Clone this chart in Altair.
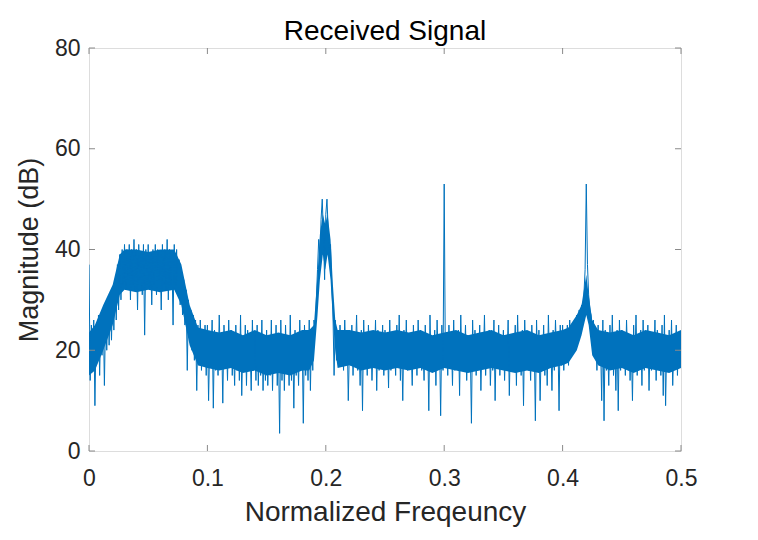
import altair as alt
import pandas as pd
import numpy as np

# Magnitude (dB), one value per 0.001 of normalized frequency
seg_000 = [37, 14, 25, 17, 26, 9, 24, 18, 27, 15, 26, 19, 28, 13, 27, 20, 29, 21, 30, 22,
           32, 24, 34, 26, 37, 28, 39, 30, 40, 33, 41, 32, 40, 34, 41, 30, 40, 33, 42, 32,
           40, 28, 41, 34, 39, 31, 41, 23, 40, 33]
seg_050 = [41, 32, 39, 29, 40, 33, 41, 31, 40, 34, 39, 28, 41, 33, 40, 32, 42, 30, 40, 33,
           39, 25, 41, 32, 40, 31, 38, 29, 36, 27, 34, 25, 32, 16, 30, 22, 28, 20, 27, 18,
           26, 12, 25, 17, 26, 16, 24, 18, 25, 15]
seg_100 = [25, 10, 22, 17, 26, 8.5, 24, 16, 21, 15, 27, 17, 23, 9.5, 25, 18, 22, 14, 26, 17,
           24, 15, 21, 13, 25, 16, 23, 14, 27, 11, 22, 16, 25, 13, 24, 18, 21, 12, 26, 16,
           23, 14, 25, 13, 22, 15, 26, 12, 23, 14]
seg_150 = [24, 13, 22, 15, 26, 12, 23, 17, 25, 13, 21, 3.5, 26, 14, 23, 12, 25, 17, 22, 13,
           27, 14, 23, 8.5, 24, 15, 21, 13, 26, 16, 23, 5.5, 25, 15, 22, 14, 26, 12, 24, 16,
           26, 24, 30, 36, 42, 38, 46, 50, 43, 34]
seg_200 = [47, 50, 44, 38, 41, 33, 28, 15, 26, 18, 23, 17, 25, 19, 22, 16, 26, 18, 24, 10,
           21, 17, 25, 15, 23, 19, 27, 16, 22, 13, 24, 8, 26, 17, 22, 15, 25, 18, 23, 14,
           21, 17, 26, 12, 24, 16, 22, 18, 25, 15]
seg_250 = [24, 17, 22, 12.5, 26, 16, 23, 18, 21, 15, 25, 17, 27, 14, 22, 10, 24, 17, 26, 16,
           23, 18, 21, 13, 25, 17, 22, 15, 26, 18, 24, 16, 21, 14, 25, 17, 23, 8, 27, 16,
           22, 18, 24, 13, 26, 17, 23, 7, 25, 16]
seg_300 = [53, 17, 22, 15, 25, 18, 23, 13, 26, 16, 21, 17, 24, 11, 27, 16, 22, 18, 25, 14,
           23, 17, 21, 5.5, 26, 16, 24, 15, 22, 18, 25, 12, 23, 17, 27, 15, 22, 18, 24, 13,
           21, 16, 26, 10, 23, 17, 25, 15, 22, 18]
seg_350 = [24, 14, 22, 17, 26, 11, 23, 16, 21, 18, 25, 13, 27, 17, 22, 15, 24, 9, 26, 17,
           23, 16, 21, 14, 25, 18, 22, 6, 26, 16, 24, 10, 21, 17, 25, 15, 23, 13, 27, 17,
           22, 12, 24, 16, 26, 18, 23, 8, 25, 17]
seg_400 = [25, 16, 24, 18, 25, 17, 26, 19, 25, 20, 26, 21, 27, 22, 28, 24, 29, 27, 31, 36,
           53, 37, 31, 28, 27, 24, 26, 19, 23, 16, 25, 17, 22, 10, 26, 6, 24, 16, 21, 13,
           25, 17, 27, 15, 22, 12, 24, 8, 26, 16]
seg_450 = [24, 17, 22, 15, 26, 18, 23, 14, 21, 10, 25, 17, 27, 15, 22, 18, 24, 13, 26, 16,
           21, 17, 25, 12, 23, 16, 22, 18, 26, 14, 24, 17, 21, 15, 25, 11, 27, 9, 22, 17,
           24, 16, 26, 13, 21, 18, 25, 15, 23, 17, 22]

# Dense (solid-looking) core of the noise band
core_freq = [0.000, 0.005, 0.012, 0.020, 0.026, 0.030, 0.040, 0.050, 0.060, 0.072, 0.078,
             0.085, 0.092, 0.100, 0.110, 0.120, 0.130, 0.140, 0.150, 0.160, 0.170, 0.180,
             0.186, 0.190, 0.193, 0.195, 0.1975, 0.1995, 0.2015, 0.204, 0.206, 0.208,
             0.210, 0.220, 0.230, 0.240, 0.250, 0.260, 0.270, 0.280, 0.290, 0.300, 0.310,
             0.320, 0.330, 0.340, 0.350, 0.360, 0.370, 0.380, 0.390, 0.400, 0.405, 0.412,
             0.416, 0.418, 0.420, 0.422, 0.425, 0.430, 0.440, 0.450, 0.460, 0.470, 0.480,
             0.490, 0.500]
core_lo = [15, 16, 20, 25, 31, 32, 31.5, 32, 31.5, 32, 29,
           21, 17, 16.5, 16, 16.5, 15.5, 16, 15, 15.5, 15, 16,
           16, 18, 27, 34, 39, 36, 39, 34, 26, 20,
           16.5, 17, 16, 16.5, 16, 16.5, 16, 16.5, 15.5, 16.5, 16,
           15.5, 16, 16.5, 16, 15.5, 16, 15.5, 16.5, 17, 17.5, 20,
           23, 25, 27, 25, 19, 17, 16, 16.5, 15.5, 16.5, 16,
           15.5, 16.5]
core_hi = [23.5, 25, 29, 33, 39, 40, 40, 39.5, 40, 40, 37,
           29, 24.5, 24, 23.5, 24, 23, 24, 23, 23.5, 23, 24,
           24, 25, 35, 43, 47, 45, 47, 42, 33, 26,
           24, 24, 23.5, 24, 23.5, 24, 23.5, 24, 23, 23.5, 24,
           23, 23.5, 24, 23, 23.5, 24, 23, 23.5, 24, 24.5, 27,
           29, 32, 35, 31, 26, 24, 23.5, 24, 23, 24, 23.5,
           23, 24]

x_ticks = [0, 0.1, 0.2, 0.3, 0.4, 0.5]
y_ticks = [0, 20, 40, 60, 80]

mag = seg_000 + seg_050 + seg_100 + seg_150 + seg_200 + seg_250 + seg_300 + seg_350 + seg_400 + seg_450
freq = np.round(np.arange(len(mag)) * 0.001, 3)
df = pd.DataFrame({"freq": freq, "mag": mag})
core = pd.DataFrame({"freq": core_freq, "mag": core_lo, "hi": core_hi})
xt = pd.DataFrame({"freq": x_ticks})
yt = pd.DataFrame({"mag": y_ticks})

W, H = 592, 403
FONT = "Liberation Sans"
TXT = "#262626"
GREY = "#8a8a8a"
BLUE = "#0072BD"

xscale = alt.Scale(domain=[0, 0.5], nice=False, zero=False)
yscale = alt.Scale(domain=[0, 80], nice=False)

xaxis = alt.Axis(title="Normalized Freqeuncy", values=x_ticks, format="~g",
                 domain=False, ticks=False, grid=False, labelFontSize=23,
                 labelPadding=16, labelFlush=False, titleFontSize=28,
                 titleFontWeight="normal", titlePadding=8, labelFont=FONT,
                 titleFont=FONT, labelColor=TXT, titleColor=TXT)
yaxis = alt.Axis(title="Magnitude (dB)", values=y_ticks,
                 domain=False, ticks=False, grid=False, labelFontSize=23,
                 labelPadding=9, labelFlush=False, titleFontSize=27,
                 titleFontWeight="normal", titlePadding=11, labelFont=FONT,
                 titleFont=FONT, labelColor=TXT, titleColor=TXT)

band = alt.Chart(core).mark_area(color=BLUE, opacity=1, clip=True).encode(
    x=alt.X("freq:Q", scale=xscale, axis=xaxis),
    y=alt.Y("mag:Q", scale=yscale, axis=yaxis),
    y2="hi:Q",
)

line = alt.Chart(df).mark_line(color=BLUE, strokeWidth=1, clip=True).encode(
    x=alt.X("freq:Q", scale=xscale, axis=xaxis),
    y=alt.Y("mag:Q", scale=yscale, axis=yaxis),
)

xb = alt.Chart(xt).mark_rule(color=GREY, strokeWidth=1).encode(
    x=alt.X("freq:Q", scale=xscale, axis=xaxis), y=alt.value(H), y2=alt.value(H - 6))
xtop = alt.Chart(xt).mark_rule(color=GREY, strokeWidth=1).encode(
    x=alt.X("freq:Q", scale=xscale, axis=xaxis), y=alt.value(0), y2=alt.value(6))
yl = alt.Chart(yt).mark_rule(color=GREY, strokeWidth=1).encode(
    y=alt.Y("mag:Q", scale=yscale, axis=yaxis), x=alt.value(0), x2=alt.value(6))
yr = alt.Chart(yt).mark_rule(color=GREY, strokeWidth=1).encode(
    y=alt.Y("mag:Q", scale=yscale, axis=yaxis), x=alt.value(W), x2=alt.value(W - 6))

chart = alt.layer(band, line, xb, xtop, yl, yr).properties(
    width=W, height=H,
    title=alt.TitleParams("Received Signal", fontSize=28, font=FONT, fontWeight="normal",
                          color="#000000", offset=4, dy=13),
    autosize=alt.AutoSizeParams(type="none"),
    padding={"left": 81, "top": 40, "right": 60, "bottom": 90},
).configure_view(stroke=GREY, strokeWidth=1).configure(background="white")

chart.save("out.html", embed_options={"renderer": "svg", "actions": False})
